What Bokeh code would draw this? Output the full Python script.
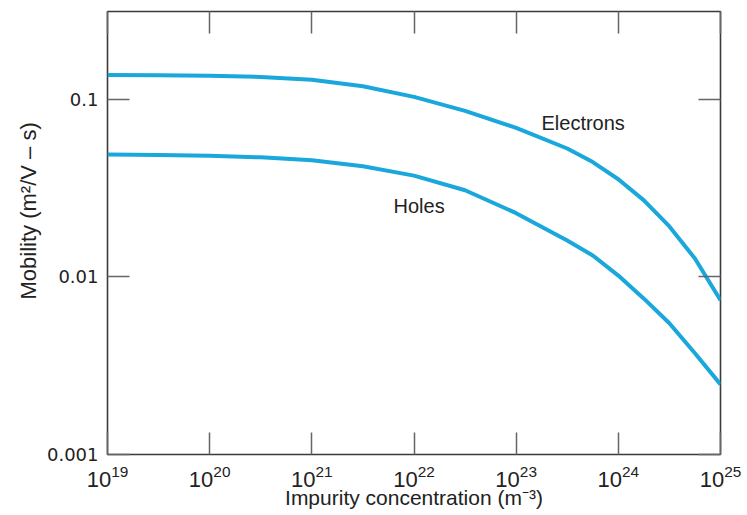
from bokeh.plotting import figure
from bokeh.models import (FixedTicker, LogAxis, Label, Range1d, Title,
                          CustomJSTickFormatter, LogTickFormatter)
from bokeh.embed import file_html
from bokeh.resources import INLINE

# ---- data ----
concentration = [1e19, 3.16e19, 1e20, 3.16e20, 1e21, 3.16e21, 1e22, 3.16e22,
                 1e23, 3.16e23, 5.62e23, 1e24, 1.78e24, 3.16e24, 5.62e24, 1e25]
electrons = [0.1367, 0.1361, 0.1353, 0.1332, 0.1284, 0.1180, 0.1029, 0.0858,
             0.0688, 0.0527, 0.0442, 0.0354, 0.0269, 0.0192, 0.01267, 0.00738]
holes = [0.0487, 0.0485, 0.0480, 0.0470, 0.0453, 0.0419, 0.0371, 0.0307,
         0.0228, 0.0160, 0.01318, 0.01016, 0.00753, 0.00548, 0.00371, 0.00248]

x_ticks = [1e19, 1e20, 1e21, 1e22, 1e23, 1e24, 1e25]
y_ticks = [0.001, 0.01, 0.1]
y_tick_labels = ["0.001", "0.01", "0.1"]

FONT = "Liberation Sans"
NUMFONT = "DejaVu Sans"
TXT = "#222222"
CURVE = "#1AA7DB"
FRAME = "#3a3a3a"
TICK = "#666666"

blank = CustomJSTickFormatter(code="return '';")
ylab = CustomJSTickFormatter(
    args=dict(tvals=y_ticks, tlabs=y_tick_labels),
    code="""
    for (let i = 0; i < tvals.length; i++) {
        if (Math.abs(Math.log10(tvals[i]) - Math.log10(tick)) < 1e-6) return tlabs[i];
    }
    return '';
    """)

p = figure(frame_width=613, frame_height=443,
           min_border_left=107, min_border_right=27, min_border_top=11,
           min_border_bottom=61,
           x_axis_type="log", y_axis_type="log",
           x_range=Range1d(1e19, 1e25), y_range=Range1d(1e-3, 0.311),
           output_backend="svg", toolbar_location=None)
p.background_fill_color = "white"
p.border_fill_color = "white"
p.outline_line_color = FRAME
p.outline_line_width = 1.6
p.xgrid.visible = False
p.ygrid.visible = False

# bottom axis
xa = p.xaxis[0]
xa.ticker = FixedTicker(ticks=x_ticks, minor_ticks=[])
xa.formatter = LogTickFormatter()
xa.major_tick_in = 22
xa.major_tick_out = 0
xa.major_tick_line_color = TICK
xa.major_tick_line_width = 1.5
xa.axis_line_color = None
xa.major_label_text_font = FONT
xa.major_label_text_font_size = "22px"
xa.major_label_text_color = TXT
xa.major_label_standoff = 10
xa.axis_label = "Impurity concentration (m\u207b\u00b3)"
xa.axis_label_text_font = FONT
xa.axis_label_text_font_size = "21px"
xa.axis_label_text_font_style = "normal"
xa.axis_label_text_color = TXT
xa.axis_label_standoff = -4

# left axis
ya = p.yaxis[0]
ya.ticker = FixedTicker(ticks=y_ticks, minor_ticks=[])
ya.formatter = ylab
ya.major_tick_in = 22
ya.major_tick_out = 0
ya.major_tick_line_color = TICK
ya.major_tick_line_width = 1.5
ya.axis_line_color = None
ya.major_label_standoff = 9
ya.major_label_text_font = NUMFONT
ya.major_label_text_font_size = "18px"
ya.major_label_text_color = TXT

# y axis title (placed higher than centre, like the reference)
p.add_layout(Title(text="Mobility (m\u00b2/V \u2013 s)", align="left", offset=155,
                   standoff=6, text_font=FONT, text_font_size="22px",
                   text_font_style="normal", text_color=TXT), "left")

# top and right axes (ticks only)
top = LogAxis(ticker=FixedTicker(ticks=x_ticks, minor_ticks=[]), formatter=blank,
              major_tick_in=22, major_tick_out=0, major_tick_line_color=TICK,
              major_tick_line_width=1.5, axis_line_color=None,
              major_label_text_font_size="1px", major_label_standoff=0)
right = LogAxis(ticker=FixedTicker(ticks=y_ticks, minor_ticks=[]), formatter=blank,
                major_tick_in=22, major_tick_out=0, major_tick_line_color=TICK,
                major_tick_line_width=1.5, axis_line_color=None,
                major_label_text_font_size="1px", major_label_standoff=0)
p.add_layout(top, "above")
p.add_layout(right, "right")

# curves
p.line(concentration, electrons, line_color=CURVE, line_width=4)
p.line(concentration, holes, line_color=CURVE, line_width=4)

# curve labels
p.add_layout(Label(x=1.77e23, y=0.0729, text="Electrons", text_align="left",
                   text_baseline="middle", text_font=FONT, text_font_size="20px",
                   text_color=TXT))
p.add_layout(Label(x=6.3e21, y=0.0251, text="Holes", text_align="left",
                   text_baseline="middle", text_font=FONT, text_font_size="20px",
                   text_color=TXT))

open("out.html", "w").write(file_html(p, INLINE))
